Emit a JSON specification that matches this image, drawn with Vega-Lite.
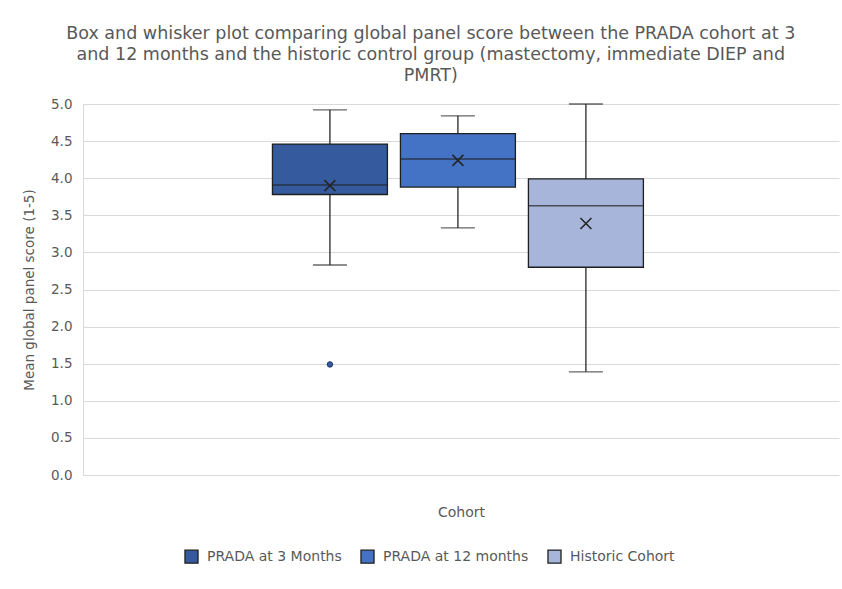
{
  "$schema": "https://vega.github.io/schema/vega-lite/v6.json",
  "width": 756,
  "height": 371,
  "autosize": {"type": "none"},
  "padding": {"left": 83, "top": 104, "right": 3, "bottom": 114},
  "background": "white",
  "title": {
    "text": ["Box and whisker plot comparing global panel score between the PRADA cohort at 3", "and 12 months and the historic control group (mastectomy, immediate DIEP and", "PMRT)"],
    "font": "DejaVu Sans",
    "fontSize": 17.5,
    "fontWeight": "normal",
    "color": "#595959",
    "lineHeight": 21,
    "anchor": "middle",
    "frame": "bounds",
    "offset": 13
  },
  "config": {
    "view": {"stroke": null},
    "font": "DejaVu Sans",
    "axisY": {
      "tickCount": 11,
      "labelOverlap": false,
      "format": ".1f",
      "ticks": false,
      "domain": true,
      "domainColor": "#d9d9d9",
      "grid": true,
      "gridColor": "#d9d9d9",
      "gridWidth": 1,
      "labelFont": "DejaVu Sans",
      "labelFontSize": 13.5,
      "labelColor": "#595959",
      "labelPadding": 11,
      "titleFont": "DejaVu Sans",
      "titleFontSize": 13.5,
      "titleFontWeight": "normal",
      "titleColor": "#595959",
      "titlePadding": 14
    }
  },
  "datasets": {
    "boxes": [
      {"axis": "Cohort", "group": "PRADA at 3 Months", "lower": 2.83, "q1": 3.78, "median": 3.91, "q3": 4.46, "upper": 4.92, "mean": 3.90},
      {"axis": "Cohort", "group": "PRADA at 12 months", "lower": 3.33, "q1": 3.88, "median": 4.26, "q3": 4.60, "upper": 4.84, "mean": 4.24},
      {"axis": "Cohort", "group": "Historic Cohort", "lower": 1.39, "q1": 2.80, "median": 3.63, "q3": 3.99, "upper": 5.00, "mean": 3.39}
    ],
    "outliers": [
      {"axis": "Cohort", "group": "PRADA at 3 Months", "value": 1.49}
    ]
  },
  "data": {"name": "boxes"},
  "encoding": {
    "x": {
      "field": "axis",
      "type": "nominal",
      "scale": {"paddingInner": 0, "paddingOuter": 0.519, "align": 0.492},
      "axis": {
        "title": "Cohort",
        "labels": false,
        "ticks": false,
        "domain": false,
        "grid": false,
        "titleFont": "DejaVu Sans",
        "titleFontSize": 14,
        "titleFontWeight": "normal",
        "titleColor": "#595959",
        "titlePadding": 30
      }
    },
    "xOffset": {
      "field": "group",
      "type": "nominal",
      "sort": ["PRADA at 3 Months", "PRADA at 12 months", "Historic Cohort"],
      "scale": {"paddingInner": 0.1016, "paddingOuter": 0}
    }
  },
  "layer": [
    {
      "mark": {"type": "rule", "color": "#262626", "strokeWidth": 1.3},
      "encoding": {
        "y": {
          "field": "lower",
          "type": "quantitative",
          "scale": {"domain": [0, 5], "nice": false, "zero": true},
          "axis": {"title": "Mean global panel score (1-5)", "values": [0, 0.5, 1, 1.5, 2, 2.5, 3, 3.5, 4, 4.5, 5], "tickCount": 11}
        },
        "y2": {"field": "upper"}
      }
    },
    {
      "mark": {"type": "tick", "color": "#262626", "size": 34, "thickness": 1.3},
      "encoding": {"y": {"field": "lower", "type": "quantitative"}}
    },
    {
      "mark": {"type": "tick", "color": "#262626", "size": 34, "thickness": 1.3},
      "encoding": {"y": {"field": "upper", "type": "quantitative"}}
    },
    {
      "mark": {"type": "bar", "stroke": "#1f1f1f", "strokeWidth": 1.3},
      "encoding": {
        "y": {"field": "q1", "type": "quantitative"},
        "y2": {"field": "q3"},
        "color": {
          "field": "group",
          "type": "nominal",
          "sort": ["PRADA at 3 Months", "PRADA at 12 months", "Historic Cohort"],
          "scale": {
            "domain": ["PRADA at 3 Months", "PRADA at 12 months", "Historic Cohort"],
            "range": ["#355a9e", "#4472c4", "#a7b5da"]
          },
          "legend": {
            "title": null,
            "orient": "none",
            "legendX": 101,
            "legendY": 445,
            "direction": "horizontal",
            "symbolType": "square",
            "symbolSize": 170,
            "symbolStrokeColor": "#1f1f1f",
            "symbolStrokeWidth": 1.3,
            "symbolOpacity": 1,
            "labelFont": "DejaVu Sans",
            "labelFontSize": 14,
            "labelColor": "#595959",
            "labelOffset": 8,
            "columnPadding": 16
          }
        }
      }
    },
    {
      "mark": {"type": "tick", "color": "#1f1f1f", "size": 115, "thickness": 1.5},
      "encoding": {"y": {"field": "median", "type": "quantitative"}}
    },
    {
      "mark": {"type": "point", "shape": "M-1,-1L1,1M-1,1L1,-1", "filled": false, "stroke": "#262626", "strokeWidth": 1.6, "size": 121, "opacity": 1},
      "encoding": {"y": {"field": "mean", "type": "quantitative"}}
    },
    {
      "data": {"name": "outliers"},
      "mark": {"type": "point", "shape": "circle", "filled": true, "fill": "#355a9e", "stroke": "#1f3864", "strokeWidth": 1, "size": 30, "opacity": 1},
      "encoding": {"y": {"field": "value", "type": "quantitative"}}
    }
  ]
}
